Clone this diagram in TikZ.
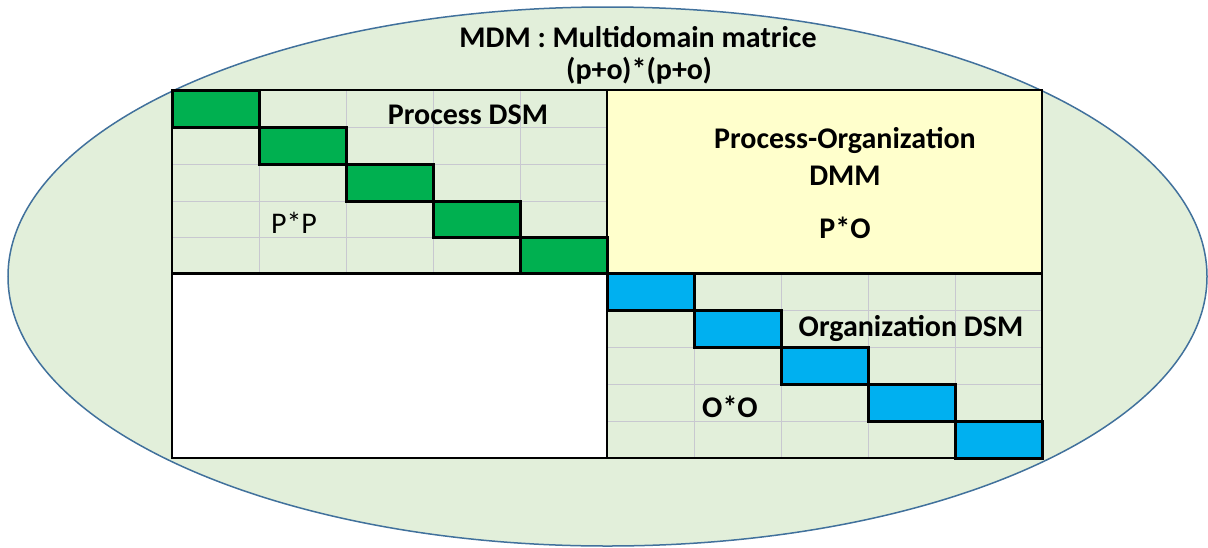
\documentclass[tikz,border=0pt]{standalone}
\usepackage{fontspec}
\setmainfont{Carlito}
\definecolor{ellfill}{HTML}{E2EFDA}
\definecolor{ellline}{HTML}{41719C}
\definecolor{pgreen}{HTML}{00B050}
\definecolor{oblue}{HTML}{00B0F0}
\definecolor{dmmyellow}{HTML}{FFFFCC}
\definecolor{gridgray}{HTML}{C8C8D0}
\tikzset{
  lbl/.style={anchor=base, inner sep=0pt, font=\fontsize{30}{36}\selectfont\bfseries},
  lblr/.style={anchor=base, inner sep=0pt, font=\fontsize{30}{36}\selectfont},
  cellg/.style={fill=pgreen, draw=black, line width=3pt},
  cellb/.style={fill=oblue, draw=black, line width=3pt},
  gridl/.style={draw=gridgray, line width=0.8pt},
}
\begin{document}
\begin{tikzpicture}[x=1pt,y=-1pt]
\useasboundingbox (0,0) rectangle (1208,547);
% ellipse
\draw[fill=ellfill, draw=ellline, line width=1.5pt] (607.5,276.5) ellipse [x radius=599.5, y radius=269.5];
% quadrants
\fill[ellfill] (172,90) rectangle (607,273);
\fill[dmmyellow] (607,90) rectangle (1042,273);
\fill[white] (172,273) rectangle (607,458);
\fill[ellfill] (607,273) rectangle (1042,458);
% grids
\foreach \x in {259,346,433,520} \draw[gridl] (\x,90) -- (\x,273);
\foreach \y in {127,164,201,237} \draw[gridl] (172,\y) -- (607,\y);
\foreach \x in {694,781,868,955} \draw[gridl] (\x,273) -- (\x,458);
\foreach \y in {310,347,384,421} \draw[gridl] (607,\y) -- (1042,\y);
% diagonal cells
\draw[cellg] (172,90) rectangle (259,127);
\draw[cellg] (259,127) rectangle (346,164);
\draw[cellg] (346,164) rectangle (433,201);
\draw[cellg] (433,201) rectangle (520,237);
\draw[cellg] (520,237) rectangle (607,273);
\draw[cellb] (607,273) rectangle (694,310);
\draw[cellb] (694,310) rectangle (781,347);
\draw[cellb] (781,347) rectangle (868,384);
\draw[cellb] (868,384) rectangle (955,421);
\draw[cellb] (955,421) rectangle (1042,458);
% outer frame and dividers
\draw[black, line width=2pt] (172,90) rectangle (1042,458);
\draw[black, line width=2pt] (607,90) -- (607,458);
\draw[black, line width=3pt] (172,273) -- (1042,273);
% texts
\node[lbl] (t1) at (638,47) {MDM : Multidomain matrice};
\node[lbl] (t2) at (639,79) {(p+o)*(p+o)};
\node[lbl] (pdsm) at (468,124) {Process DSM};
\node[lblr] (pp) at (294,233) {P*P};
\node[lbl] (po1) at (845,148) {Process-Organization};
\node[lbl] (po2) at (845,185) {DMM};
\node[lbl] (po3) at (845,238) {P*O};
\node[lbl] (odsm) at (911,336) {Organization DSM};
\node[lbl] (oo) at (730,417) {O*O};
\end{tikzpicture}
\end{document}
